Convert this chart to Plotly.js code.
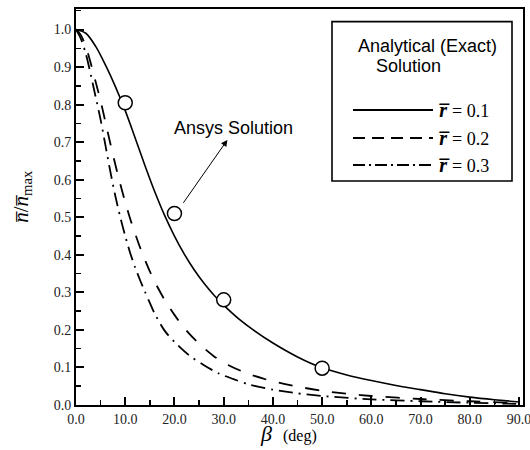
<!DOCTYPE html>
<html>
<head>
<meta charset="utf-8">
<script src="https://cdn.plot.ly/plotly-3.0.1.min.js"></script>
<style>
  html, body { margin: 0; padding: 0; background: #fff; }
  #chart { width: 530px; height: 450px; }
</style>
</head>
<body>
<div id="chart"></div>
<script>
// Analytical solution curves: normalised n versus beta (deg)
const betaR1 = [0, 2, 4, 6, 8, 10, 12, 14, 16, 18, 20, 22, 24, 26, 28, 30, 33, 36, 40, 45, 50, 55, 60, 65, 70, 75, 80, 85, 90];
const nR1    = [1.0, 0.99, 0.955, 0.905, 0.848, 0.784, 0.712, 0.638, 0.568, 0.505, 0.45, 0.402, 0.36, 0.324, 0.293, 0.266, 0.23, 0.2, 0.165, 0.128, 0.099, 0.08, 0.065, 0.052, 0.041, 0.030, 0.021, 0.014, 0.008];

const betaR2 = [0, 1, 2, 3, 4, 5, 6, 7, 8, 9, 10, 11, 12, 13, 14, 15, 16, 18, 20, 22, 25, 28, 31, 35, 40, 45, 50, 55, 60, 70, 80, 90];
const nR2    = [1.0, 0.985, 0.955, 0.91, 0.86, 0.81, 0.752, 0.695, 0.64, 0.588, 0.54, 0.496, 0.457, 0.42, 0.387, 0.356, 0.328, 0.28, 0.24, 0.205, 0.163, 0.13, 0.106, 0.083, 0.063, 0.049, 0.038, 0.03, 0.024, 0.016, 0.01, 0.005];

const betaR3 = [0, 1, 2, 3, 4, 5, 6, 7, 8, 9, 10, 11, 12, 13, 14, 15, 16, 18, 20, 23, 26, 29, 32, 35, 40, 45, 50, 60, 70, 80, 90];
const nR3    = [1.0, 0.975, 0.935, 0.88, 0.82, 0.76, 0.69, 0.62, 0.556, 0.5, 0.45, 0.405, 0.367, 0.333, 0.302, 0.272, 0.243, 0.198, 0.168, 0.132, 0.106, 0.084, 0.069, 0.055, 0.041, 0.031, 0.024, 0.015, 0.010, 0.006, 0.003];

// Ansys (numerical) results
const betaAnsys = [10, 20, 30, 50];
const nAnsys    = [0.805, 0.51, 0.28, 0.098];

// Axis tick labels
const xTicks = [0, 10, 20, 30, 40, 50, 60, 70, 80, 90];
const yTicks = [0, 0.1, 0.2, 0.3, 0.4, 0.5, 0.6, 0.7, 0.8, 0.9, 1.0];

// Legend entries
const legendLabels = ['0.1', '0.2', '0.3'];

const serif = "'Liberation Serif', 'Times New Roman', serif";
const sans = "'Liberation Sans', Arial, sans-serif";

const dashR1 = 'solid';
const dashR2 = '14px,13px';
const dashR3 = '14px,6px,2px,6px';

const traces = [
  { x: betaR1, y: nR1, mode: 'lines', line: { color: '#000', width: 1.6, dash: dashR1, shape: 'spline', smoothing: 0.8 }, showlegend: false, hoverinfo: 'skip' },
  { x: betaR2, y: nR2, mode: 'lines', line: { color: '#000', width: 1.8, dash: dashR2, shape: 'spline', smoothing: 0.8 }, showlegend: false, hoverinfo: 'skip' },
  { x: betaR3, y: nR3, mode: 'lines', line: { color: '#000', width: 1.8, dash: dashR3, shape: 'spline', smoothing: 0.8 }, showlegend: false, hoverinfo: 'skip' },
  { x: betaAnsys, y: nAnsys, mode: 'markers', marker: { symbol: 'circle', size: 14, color: '#fff', line: { color: '#000', width: 1.5 } }, showlegend: false, hoverinfo: 'skip' }
];

// Legend box geometry in paper coordinates
const legX0 = 0.5727, legX1 = 0.9754, legY0 = 0.5657, legY1 = 0.968;
const sampleX0 = 0.6197, sampleX1 = 0.7987, labelX = 0.8076;
const rowY = [0.7449, 0.6742, 0.606];
const sampleDash = ['solid', '12px,7px', '12px,4px,2px,4px'];

const shapes = [
  { type: 'rect', xref: 'paper', yref: 'paper', x0: legX0, x1: legX1, y0: legY0, y1: legY1,
    line: { color: '#000', width: 1.6 }, fillcolor: '#fff', layer: 'above' }
];
const annotations = [
  { xref: 'paper', yref: 'paper', x: 0.7864, y: 0.9065, text: 'Analytical (Exact)', showarrow: false,
    xanchor: 'center', yanchor: 'middle', font: { family: sans, size: 18, color: '#000' } },
  { xref: 'paper', yref: 'paper', x: 0.6667, y: 0.8555, text: 'Solution', showarrow: false,
    xanchor: 'left', yanchor: 'middle', font: { family: sans, size: 18, color: '#000' } },
  // Ansys label and pointer
  { x: 32.0, y: 0.738, text: 'Ansys Solution', showarrow: false, xanchor: 'center', yanchor: 'middle',
    font: { family: sans, size: 18, color: '#000' } },
  { x: 30.75, y: 0.706, ax: 21.2, ay: 0.527, axref: 'x', ayref: 'y', text: ' ', showarrow: true,
    arrowhead: 2, arrowsize: 1.3, arrowwidth: 1, arrowcolor: '#000' },
  // Axis titles
  { xref: 'paper', yref: 'paper', x: 0.4765, y: -0.072, text: '<i>β</i>  <span style="font-size:16px">(deg)</span>',
    showarrow: false, xanchor: 'center', yanchor: 'middle', font: { family: serif, size: 22, color: '#000' } },
  { xref: 'paper', yref: 'paper', x: -0.121, y: 0.528, textangle: -90,
    text: '<i>n\u0305</i>/<i>n\u0305</i><sub>max</sub>',
    showarrow: false, xanchor: 'center', yanchor: 'middle', font: { family: serif, size: 21, color: '#000' } }
];

legendLabels.forEach((lab, i) => {
  shapes.push({ type: 'line', xref: 'paper', yref: 'paper', x0: sampleX0, x1: sampleX1, y0: rowY[i], y1: rowY[i],
    line: { color: '#000', width: 1.8, dash: sampleDash[i] }, layer: 'above' });
  annotations.push({ xref: 'paper', yref: 'paper', x: labelX, y: rowY[i], xanchor: 'left', yanchor: 'middle',
    text: '<b><i>r\u0305</i></b> <span style="font-size:18px">= ' + lab + '</span>', showarrow: false,
    font: { family: serif, size: 20, color: '#000' } });
});

const layout = {
  width: 530, height: 450,
  margin: { l: 76, r: 7, t: 9, b: 45 },
  paper_bgcolor: '#fff', plot_bgcolor: '#fff',
  showlegend: false,
  xaxis: {
    range: [0, 90.8], showgrid: false, zeroline: false,
    tickvals: xTicks, tickformat: '.1f', ticklabeloverflow: 'allow',
    ticks: 'inside', ticklen: 8, tickwidth: 2, tickcolor: '#000',
    minor: { ticks: 'inside', ticklen: 5, tickwidth: 1.5, tickcolor: '#000', dtick: 5, tick0: 0, showgrid: false },
    showline: true, linecolor: '#000', linewidth: 2, mirror: true,
    tickfont: { family: serif, size: 14, color: '#222' }
  },
  yaxis: {
    range: [0, 1.0546], showgrid: false, zeroline: false,
    tickvals: yTicks, tickformat: '.1f',
    ticks: 'inside', ticklen: 8, tickwidth: 2, tickcolor: '#000',
    minor: { ticks: 'inside', ticklen: 5, tickwidth: 1.5, tickcolor: '#000', dtick: 0.05, tick0: 0, showgrid: false },
    showline: true, linecolor: '#000', linewidth: 2, mirror: true,
    tickfont: { family: serif, size: 14, color: '#222' }
  },
  shapes: shapes,
  annotations: annotations
};

Plotly.newPlot('chart', traces, layout, { displayModeBar: false, staticPlot: true });
</script>
</body>
</html>
